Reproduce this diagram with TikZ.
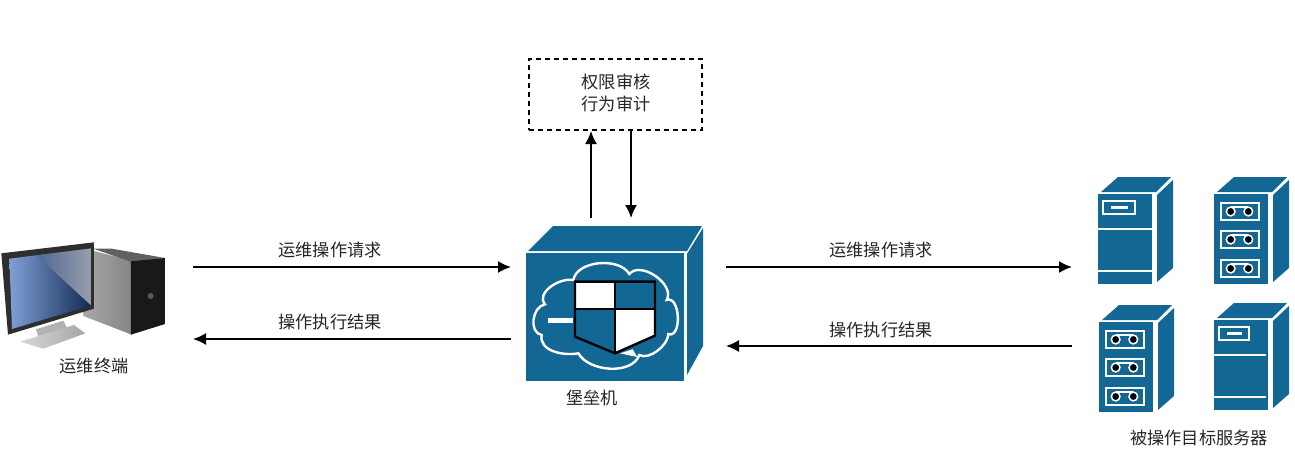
\documentclass[tikz,border=0pt]{standalone}
\usepackage{fontspec}
\setmainfont{Noto Sans CJK SC}
\usetikzlibrary{arrows.meta}
\definecolor{cisco}{HTML}{126794}
\definecolor{ink}{HTML}{262626}
\tikzset{
  flow/.style={line width=1.7pt,draw=black,-{Latex[length=13pt,width=12pt]}},
  lbl/.style={font=\fontsize{17.2pt}{20pt}\selectfont,text=ink,inner sep=0pt,xshift=1pt,yshift=-1pt},
  boxbody/.pic={
    \fill[cisco] (0,0) rectangle (54,90);
    \fill[cisco] (3,-2) -- (20,-17) -- (73,-17) -- (58,-2) -- cycle;
    \fill[cisco] (59,1) -- (75,-14) -- (75,74) -- (59,88) -- cycle;
  },
  cabinetpic/.pic={
    \pic {boxbody};
    \draw[white,line width=2.6pt] (0,35) -- (54,35) (0,77) -- (54,77);
    \draw[white,line width=2.6pt] (5,7) rectangle (36,20);
    \fill[white] (13,12.4) rectangle (29,14.8);
  },
  drawerpic/.pic={
    \pic {boxbody};
    \foreach \yy in {9,37,66}{
      \draw[white,line width=2.6pt] (7,\yy) rectangle (46,\yy+17);
      \draw[white,line width=1.6pt] (17,\yy+4.2) -- (35,\yy+4.2);
      \foreach \xx in {17,35}{
        \fill[black,draw=white,line width=1.5pt] (\xx,\yy+8.5) circle (4.4pt);
      }
    }
  }
}
\begin{document}
\begin{tikzpicture}[x=1pt,y=-1pt]
\useasboundingbox (0,0) rectangle (1295,458);
\fill[white] (0,0) rectangle (1295,458);

% ---------- operator terminal
\begin{scope}[shift={(0,230)},x=.3333pt,y=-.3333pt]
  % tower
  \shade[left color=black!34,right color=black!48] (270,60) -- (395,92) -- (395,314) -- (250,258) -- cycle;
  \fill[black!62] (280,56) -- (335,56) -- (495,84) -- (395,96) -- cycle;
  \fill[black!90] (393,94) -- (495,84) -- (495,282) -- (393,314) -- cycle;
  \fill[black!65] (452,198) circle (3pt);
  % stand
  \fill[black!30] (108,298) -- (190,272) -- (205,302) -- (118,330) -- cycle;
  \shade[left color=black!15,right color=black!35] (60,335) -- (222,285) -- (256,310) -- (130,356) -- cycle;
  % monitor
  \fill[black!82] (4,70) -- (282,37) -- (282,236) -- (24,314) -- cycle;
  \shade[left color={rgb,255:red,128;green,160;blue,212},right color={rgb,255:red,18;green,42;blue,84}]
    (28,86) -- (273,55) -- (273,226) -- (36,297) -- cycle;
  \shade[left color={rgb,255:red,80;green,104;blue,146},right color={rgb,255:red,150;green,158;blue,172}]
    (110,76) -- (273,55) -- (273,226) -- cycle;
\end{scope}
\node[minimum width=165pt,minimum height=120pt,inner sep=0pt] (pc) at (82,290) {};
\node[lbl] (pclabel) at (93,365) {运维终端};

% ---------- bastion host
\node[minimum width=177pt,minimum height=156pt,inner sep=0pt] (bastion) at (614,303) {};
\fill[cisco] (526,253) rectangle (684,381);
\fill[cisco] (528,251) -- (553,226) -- (702,226) -- (687,251) -- cycle;
\fill[cisco] (687,254) -- (703,228) -- (703,346) -- (687,375) -- cycle;
\begin{scope}[shift={(510,210)},x=.3333pt,y=-.3333pt]
  \draw[white,line width=2.4pt]
    (95,375) to[out=170,in=190,looseness=1.1] (105,283)
    to[out=130,in=170,looseness=1] (190,210)
    to[out=80,in=120,looseness=.9] (358,192)
    to[out=50,in=60,looseness=1] (470,270)
    to[out=20,in=-20,looseness=1.1] (475,372)
    to[out=-90,in=-30,looseness=.8] (388,435)
    to[out=-110,in=-60,looseness=.9] (205,430)
    to[out=-170,in=-100,looseness=1] cycle;
  \fill[white] (113,323) rectangle (190,339);
  \fill[cisco] (195,215) -- (435,215) -- (435,377) -- (315,430) -- (195,380) -- cycle;
  \fill[white] (195,215) rectangle (315,297);
  \fill[white] (315,297) -- (435,297) -- (435,377) -- (315,430) -- cycle;
  \fill[white] (330,430) -- (368,418) -- (382,441) -- cycle;
  \draw[black,line width=2.4pt,line join=miter] (195,215) -- (435,215) -- (435,377) -- (315,430) -- (195,380) -- cycle;
  \draw[black,line width=2.4pt] (315,215) -- (315,430) (195,297) -- (435,297);
\end{scope}
\node[lbl] (bastionlabel) at (591,397) {堡垒机};

% ---------- audit box
\node[draw=black,line width=2pt,dash pattern=on 5pt off 4pt,minimum width=173pt,minimum height=71pt,inner sep=0pt] (audit) at (615.5,94.5) {};
\node[lbl] (audit1) at (615,81) {权限审核};
\node[lbl] (audit2) at (615,103) {行为审计};

% ---------- target servers
\pic[xscale=1.03] at (1098,194) {cabinetpic};
\pic[xscale=.98] at (1214,194) {drawerpic};
\pic[xscale=.98] at (1099,322) {drawerpic};
\pic[xscale=.97] at (1214,320) {cabinetpic};
\node[minimum width=175pt,minimum height=236pt,inner sep=0pt] (servers) at (1185,295) {};
\node[lbl] (serverslabel) at (1198,437) {被操作目标服务器};

% ---------- connector ends
\coordinate (pcOut) at (193,267);
\coordinate (pcIn) at (193,339);
\coordinate (bIn) at (511,267);
\coordinate (bBack) at (511,339);
\coordinate (bOut) at (726,267);
\coordinate (bRet) at (726,346);
\coordinate (sIn) at (1072,267);
\coordinate (sOut) at (1072,346);
\coordinate (bUp) at (591,218);
\coordinate (aIn) at (591,131);
\coordinate (aOut) at (631,131);
\coordinate (bDown) at (631,218);

\draw[flow] (pcOut) -- (bIn);
\draw[flow] (bBack) -- (pcIn);
\draw[flow] (bOut) -- (sIn);
\draw[flow] (sOut) -- (bRet);
\draw[flow] (bUp) -- (aIn);
\draw[flow] (aOut) -- (bDown);

\node[lbl] (l1) at (329,249) {运维操作请求};
\node[lbl] (l2) at (329,321) {操作执行结果};
\node[lbl] (l3) at (880,249) {运维操作请求};
\node[lbl] (l4) at (880,329) {操作执行结果};
\end{tikzpicture}
\end{document}
